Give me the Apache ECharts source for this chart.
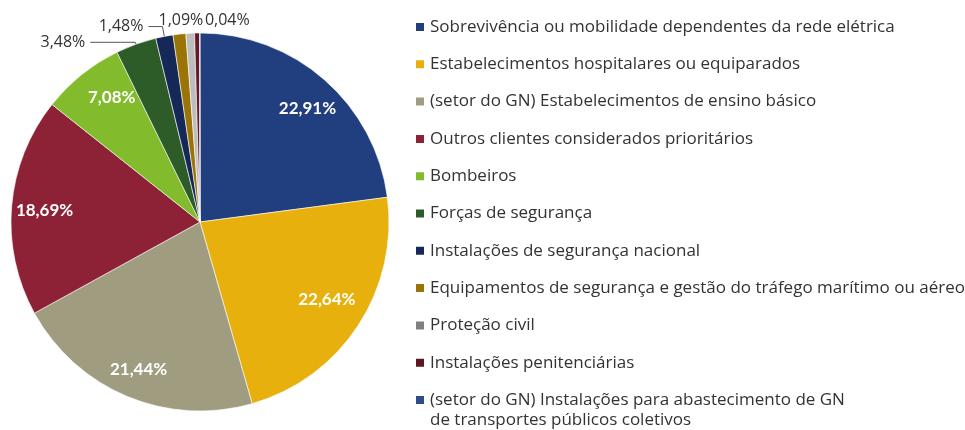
<!DOCTYPE html>
<html>
<head>
<meta charset="utf-8">
<script src="https://cdn.jsdelivr.net/npm/echarts@6/dist/echarts.min.js"></script>
<style>
  html, body { margin: 0; background: #fff; }
  #chart { width: 965px; height: 430px; }
</style>
</head>
<body>
<div id="chart"></div>
<script>
// categories, clockwise from 12 o'clock
const categories = [
  'Sobrevivência ou mobilidade dependentes da rede elétrica',
  'Estabelecimentos hospitalares ou equiparados',
  '(setor do GN) Estabelecimentos de ensino básico',
  'Outros clientes considerados prioritários',
  'Bombeiros',
  'Forças de segurança',
  'Instalações de segurança nacional',
  'Equipamentos de segurança e gestão do tráfego marítimo ou aéreo',
  'Proteção civil',
  'Instalações penitenciárias',
  '(setor do GN) Instalações para abastecimento de GN\nde transportes públicos coletivos'
];
const shares = [22.91, 22.64, 21.44, 18.69, 7.08, 3.48, 1.48, 1.09, 0.73, 0.42, 0.04];
const sliceColors = ['#213e7e', '#e8b00c', '#a09c7f', '#8d2135', '#82bb2c', '#2d5c29',
                     '#152858', '#9a7407', '#bdbdbd', '#651a27', '#2b4f8c'];
const legendColors = ['#213e7e', '#e8b00c', '#a09c7f', '#8d2135', '#82bb2c', '#2d5c29',
                      '#152858', '#9a7407', '#808080', '#5c1620', '#2b4f8c'];
// which slices get an inside (white) label and which an outside one
const insideLabel = [true, true, true, true, true, false, false, false, false, false, false];
const outsideLabel = [false, false, false, false, false, true, true, true, false, false, true];

const fmt = v => v.toFixed(2).replace('.', ',') + '%';

const chart = echarts.init(document.getElementById('chart'));

const outerLines = {
  5: { show: true, length: 2, length2: 45 },
  6: { show: true, length: 10, length2: 14 },
  7: { show: false, length: 10, length2: 0 },
  10: { show: false, length: 10, length2: 0 }
};
const nudges = { 7: [30, -4], 10: [55, -3] };
const innerNudges = { 0: [2, 7], 1: [-7, -10], 3: [4, 2], 4: [12, 0] };

// the last legend entry wraps; the legend shows its first line, the rest goes below it
const wrapped = categories[categories.length - 1].split('\n');

const legendFont = { fontFamily: 'Open Sans', fontSize: 17, color: '#333', lineHeight: 22 };

const option = {
  animation: false,
  legend: {
    orient: 'vertical',
    left: 409,
    top: 11,
    height: 600,
    padding: 5,
    itemWidth: 10,
    itemHeight: 10,
    itemGap: 15.3,
    icon: 'rect',
    selectedMode: false,
    textStyle: legendFont,
    formatter: name => name.split('\n')[0],
    data: categories.map((n, i) => ({ name: n, itemStyle: { color: legendColors[i] } }))
  },
  graphic: [{
    type: 'text',
    left: 430,
    top: 412,
    silent: true,
    style: {
      text: wrapped[1],
      font: '17px "Open Sans"',
      fill: '#333'
    }
  }],
  series: [
    {
      type: 'pie',
      center: [200, 222],
      radius: 189,
      startAngle: 90,
      clockwise: true,
      avoidLabelOverlap: false,
      silent: true,
      itemStyle: { borderColor: '#fff', borderWidth: 0.6 },
      label: {
        show: false,
        position: 'outside',
        fontFamily: 'Open Sans',
        fontSize: 16,
        color: '#333',
        formatter: p => fmt(p.value)
      },
      labelLine: { lineStyle: { color: '#555', width: 1 }, smooth: false },
      labelLayout: p => {
        const n = nudges[p.dataIndex];
        return n ? { dx: n[0], dy: n[1] } : {};
      },
      data: categories.map((n, i) => {
        const d = { name: n, value: shares[i], itemStyle: { color: sliceColors[i] } };
        if (outsideLabel[i]) {
          d.label = { show: true };
          d.labelLine = outerLines[i];
        }
        return d;
      })
    },
    {
      // transparent ring that only carries the white inside labels
      type: 'pie',
      center: [200, 222],
      radius: [125, 189],
      startAngle: 90,
      clockwise: true,
      silent: true,
      itemStyle: { color: 'rgba(0,0,0,0)', borderWidth: 0 },
      label: {
        show: false,
        position: 'inside',
        fontFamily: 'Lato',
        fontSize: 17,
        fontWeight: 'bold',
        color: '#fff',
        formatter: p => fmt(p.value)
      },
      labelLine: { show: false },
      labelLayout: p => {
        const n = innerNudges[p.dataIndex];
        return n ? { dx: n[0], dy: n[1] } : {};
      },
      data: categories.map((n, i) => ({
        name: n,
        value: shares[i],
        label: { show: insideLabel[i] }
      }))
    }
  ]
};

chart.setOption(option);
</script>
</body>
</html>
